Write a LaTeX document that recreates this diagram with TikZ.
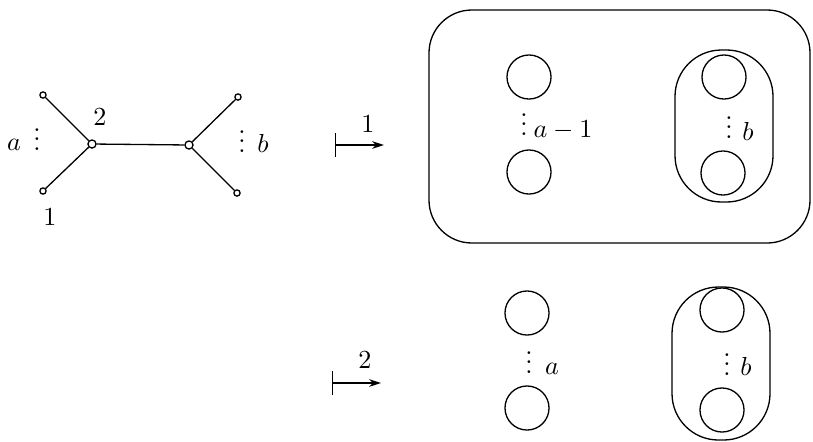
\documentclass[tikz,border=0pt]{standalone}
\usetikzlibrary{arrows.meta}
\begin{document}
\begin{tikzpicture}[x=0.42pt,y=-0.42pt, line width=0.55pt,
  leaf/.style={circle,draw,inner sep=0pt,minimum size=2.6pt},
  inner/.style={circle,draw,inner sep=0pt,minimum size=3.4pt},
  blob/.style={circle,draw,inner sep=0pt,minimum size=18.5pt},
  mapsto/.style={{Bar[width=10pt]}-{Stealth[length=5pt,width=3.2pt]}},
  lbl/.style={inner sep=0pt,anchor=base,font=\fontsize{10.5}{12}\selectfont},
  dts/.style={inner sep=0pt,anchor=south,font=\large},
  outerbox/.style={draw,rounded corners=18pt},
  ovalbox/.style={draw,rounded corners=19.5pt}]
\useasboundingbox (0,0) rectangle (813,441);
% tree
\node[leaf] (lt) at (43,95) {};
\node[leaf] (lb) at (43,191) {};
\node[inner] (u) at (92,144) {};
\node[inner] (v) at (189,145) {};
\node[leaf] (rt) at (238,97) {};
\node[leaf] (rb) at (237,193) {};
\draw (lt) -- (u); \draw (lb) -- (u); \draw (u) -- (v);
\draw (v) -- (rt); \draw (v) -- (rb);
\node[lbl] (l2) at (100,125) {$2$};
\node[lbl] (l1) at (50,225) {$1$};
\node[lbl] (la) at (14,150) {$a$};
\node[dts] (da) at (37,151) {$\vdots$};
\node[dts] (db) at (242,153) {$\vdots$};
\node[lbl] (lbb) at (263,152) {$b$};
% arrow 1
\coordinate (a1s) at (335,145);
\coordinate (a1e) at (384,145);
\draw[mapsto] (a1s) -- (a1e);
\node[lbl] (m1) at (368,132) {$1$};
% arrow 2
\coordinate (a2s) at (332,383);
\coordinate (a2e) at (381,383);
\draw[mapsto] (a2s) -- (a2e);
\node[lbl] (m2) at (365,368) {$2$};
% top right
\draw[outerbox] (429,10) rectangle (810,243);
\node[blob] (c1) at (529,77) {};
\node[blob] (c2) at (529,172) {};
\node[dts] (d1) at (524,136) {$\vdots$};
\node[lbl,anchor=base west] (t1) at (533,137) {$a-1$};
\draw[ovalbox] (675,50) rectangle (773,202);
\node[blob] (c3) at (724,77) {};
\node[blob] (c4) at (723,173) {};
\node[dts] (d2) at (729,139) {$\vdots$};
\node[lbl] (t2) at (748,140) {$b$};
% bottom right
\node[blob] (c5) at (527,313) {};
\node[blob] (c6) at (527,408) {};
\node[dts] (d3) at (529,374) {$\vdots$};
\node[lbl] (t3) at (552,374) {$a$};
\draw[ovalbox] (672,287) rectangle (770,440);
\node[blob] (c7) at (722,310) {};
\node[blob] (c8) at (722,410) {};
\node[dts] (d4) at (727,376) {$\vdots$};
\node[lbl] (t4) at (746,375) {$b$};
\end{tikzpicture}
\end{document}
